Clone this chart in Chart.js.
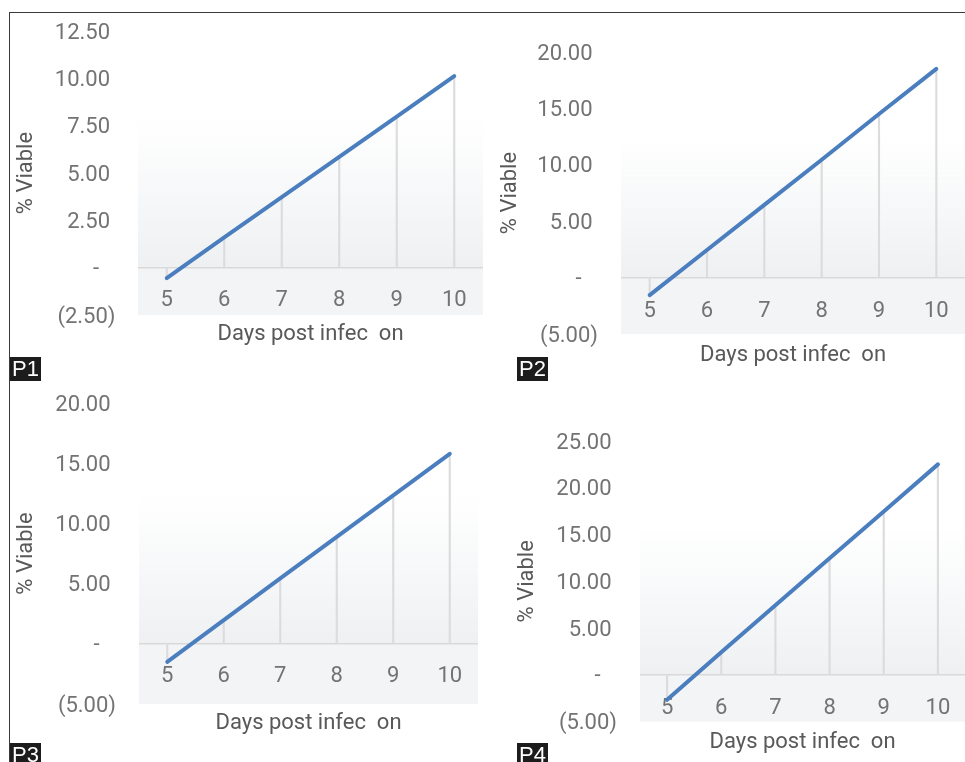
<!DOCTYPE html>
<html>
<head>
<meta charset="utf-8">
<script src="https://cdn.jsdelivr.net/npm/chart.js@4.4.1/dist/chart.umd.min.js"></script>
<style>
  html, body { margin: 0; padding: 0; background: #fff; overflow: hidden; }
  #page { position: relative; width: 965px; height: 762px; }
  #frame { position: absolute; left: 9px; top: 12px; right: 0; bottom: 0;
           border-top: 1px solid #3a3a3a; border-left: 1px solid #3a3a3a; }
  .panel { position: absolute; }
  .tag { position: absolute; background: #1c1c1c; color: #fff; z-index: 2;
         font: 22px "Liberation Sans", Arial, sans-serif; line-height: 24px; padding: 0 2px; }
</style>
</head>
<body>
<div id="page">
  <div id="frame"></div>
</div>
<script>
// viability by day post infection, one series per panel
const days = ['5', '6', '7', '8', '9', '10'];
const viableP1 = [-0.55, 1.60, 3.72, 5.85, 7.98, 10.12];
const viableP2 = [-1.55, 2.45, 6.45, 10.45, 14.50, 18.50];
const viableP3 = [-1.50, 1.97, 5.43, 8.88, 12.33, 15.78];
const viableP4 = [-2.68, 2.40, 7.43, 12.45, 17.47, 22.50];
const yMin = [-2.5, -5, -5, -5];
const yMax = [12.5, 20, 20, 25];
const yStep = [2.5, 5, 5, 5];
const tags = ['P1', 'P2', 'P3', 'P4'];
const series = [viableP1, viableP2, viableP3, viableP4];

// page placement of each panel: canvas box, plot area, title/label lines
const boxes = [
  { x: 10,  y: 14,  w: 478, h: 346, area: [138, 31, 483, 315],   yTitleX: 26,  xLabelY: 300, xTitleY: 334, tickPad: 22.5, tag: [10, 357] },
  { x: 495, y: 14,  w: 470, h: 366, area: [621, 52, 965, 334],   yTitleX: 510, xLabelY: 311, xTitleY: 355, tickPad: 23,   tag: [517, 357] },
  { x: 10,  y: 385, w: 478, h: 360, area: [139, 403, 478, 704],  yTitleX: 26,  xLabelY: 676, xTitleY: 723, tickPad: 23,   tag: [10, 743] },
  { x: 495, y: 385, w: 470, h: 377, area: [640, 441, 965, 721.5], yTitleX: 527, xLabelY: 708, xTitleY: 742, tickPad: 23,   tag: [517, 743] }
];

const FONT = 'Roboto';
const HALF_LINE = 22 * 1.2 / 2;

// accounting style: 12.50 / (2.50) / -
function acct(v) {
  if (Math.abs(v) < 1e-9) return '-   ';
  if (v < 0) return '(' + (-v).toFixed(2) + ')';
  return v.toFixed(2) + ' ';
}

// grey band below zero and a soft fade above it
const shade = {
  id: 'shade',
  beforeDraw(chart) {
    const { ctx, chartArea: a, scales: { y } } = chart;
    const zero = y.getPixelForValue(0);
    const top = a.top + (a.bottom - a.top) * 0.3;
    ctx.save();
    const g = ctx.createLinearGradient(0, top, 0, zero);
    g.addColorStop(0, 'rgba(240,242,244,0)');
    g.addColorStop(1, 'rgba(238,240,242,1)');
    ctx.fillStyle = g;
    ctx.fillRect(a.left, top, a.right - a.left, zero - top);
    ctx.fillStyle = '#f3f4f6';
    ctx.fillRect(a.left, zero, a.right - a.left, a.bottom - zero);
    ctx.restore();
  }
};

const page = document.getElementById('page');

boxes.forEach((b, i) => {
  const div = document.createElement('div');
  div.className = 'panel';
  div.style.left = b.x + 'px';
  div.style.top = b.y + 'px';
  const canvas = document.createElement('canvas');
  canvas.width = b.w;
  canvas.height = b.h;
  canvas.style.width = b.w + 'px';
  canvas.style.height = b.h + 'px';
  div.appendChild(canvas);
  page.appendChild(div);

  const tag = document.createElement('div');
  tag.className = 'tag';
  tag.textContent = tags[i];
  tag.style.left = b.tag[0] + 'px';
  tag.style.top = b.tag[1] + 'px';
  page.appendChild(tag);

  const [aL, aT, aR, aB] = b.area;

  new Chart(canvas, {
    type: 'bar',
    data: {
      labels: days,
      datasets: [
        {
          type: 'line',
          data: series[i],
          borderColor: '#4a7ebf',
          borderWidth: 4,
          borderCapStyle: 'round',
          pointRadius: 0,
          tension: 0,
          order: 0
        },
        {
          // drop lines from the zero line to each point
          type: 'bar',
          data: series[i],
          backgroundColor: '#dcdcdc',
          barThickness: 1.5,
          order: 1
        }
      ]
    },
    options: {
      responsive: false,
      animation: false,
      devicePixelRatio: 1,
      layout: { padding: { left: 0, top: aT - b.y, right: b.x + b.w - aR, bottom: 0 } },
      plugins: { legend: { display: false }, tooltip: { enabled: false } },
      scales: {
        x: {
          grid: { display: false, drawTicks: false },
          border: { display: false },
          ticks: {
            font: { family: FONT, size: 22 },
            color: '#737373',
            autoSkip: false,
            maxRotation: 0,
            mirror: true, // day labels sit inside the grey band
            padding: aB - b.xLabelY - HALF_LINE
          },
          title: {
            display: true,
            text: 'Days post infec  on',
            font: { family: FONT, size: 22 },
            color: '#595959',
            padding: { top: 0, bottom: b.y + b.h - b.xTitleY - HALF_LINE }
          },
          afterFit: (s) => {
            s.height = b.y + b.h - aB;
            s.paddingLeft = 0;
            s.paddingRight = 0;
          }
        },
        y: {
          min: yMin[i],
          max: yMax[i],
          grid: {
            drawTicks: false,
            lineWidth: 1.5,
            color: (c) => (c.tick && Math.abs(c.tick.value) < 1e-9 ? '#d9d9d9' : 'rgba(0,0,0,0)')
          },
          border: { display: false },
          ticks: {
            stepSize: yStep[i],
            font: { family: FONT, size: 22 },
            color: '#737373',
            padding: b.tickPad,
            labelOffset: 2,
            callback: (v) => acct(v)
          },
          title: {
            display: true,
            text: '% Viable',
            font: { family: FONT, size: 22 },
            color: '#595959',
            padding: { top: b.yTitleX - b.x - HALF_LINE, bottom: 0 }
          },
          afterFit: (s) => {
            s.width = aL - b.x;
            s.paddingTop = 0;
            s.paddingBottom = 0;
          }
        }
      }
    },
    plugins: [shade]
  });
});
</script>
</body>
</html>
